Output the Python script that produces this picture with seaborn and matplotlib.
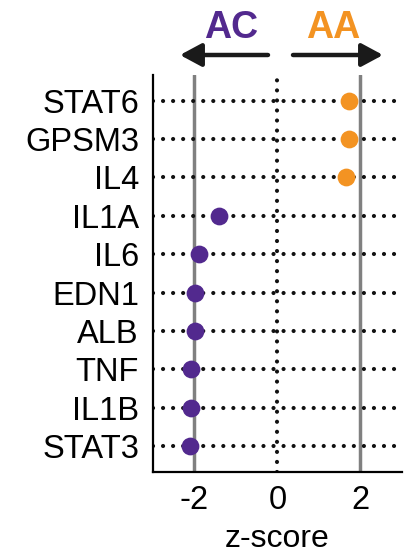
import matplotlib
matplotlib.use("Agg")
import matplotlib.pyplot as plt
import seaborn as sns
import pandas as pd

genes = ["STAT6", "GPSM3", "IL4", "IL1A", "IL6", "EDN1", "ALB", "TNF", "IL1B", "STAT3"]
zscores = [1.73, 1.73, 1.64, -1.40, -1.88, -1.98, -1.98, -2.09, -2.09, -2.10]
groups = ["AA", "AA", "AA", "AC", "AC", "AC", "AC", "AC", "AC", "AC"]
xticks = [-2, 0, 2]
xlabel = "z-score"

purple = "#52298E"
orange = "#F39322"

df = pd.DataFrame({"gene": genes, "z": zscores, "group": groups})

sns.set_style("white")
plt.rcParams["font.family"] = ["Liberation Sans", "DejaVu Sans"]
plt.rcParams["text.color"] = "black"
plt.rcParams["axes.labelcolor"] = "black"
plt.rcParams["xtick.color"] = "black"
plt.rcParams["ytick.color"] = "black"

fig = plt.figure(figsize=(4.11, 5.55), dpi=100)
ax = fig.add_axes([0.372, 0.1495, 0.606, 0.7155])

# reference lines
for xv in (-2, 2):
    ax.axvline(xv, color="#808080", lw=2.5, zorder=1)
ax.axvline(0, color="#111111", lw=3.0, linestyle=(0, (0.01, 2.4)),
           dash_capstyle="round", zorder=2)
for i in range(len(genes)):
    ax.axhline(i, color="#111111", lw=3.0, linestyle=(0, (0.01, 2.4)),
               dash_capstyle="round", zorder=2)

sns.stripplot(data=df, x="z", y="gene", hue="group", order=genes,
              palette={"AA": orange, "AC": purple}, jitter=False,
              size=12.8, linewidth=0, legend=False, ax=ax, zorder=5)

ax.set_xlim(-3, 3)
ax.set_ylim(len(genes) - 1 + 0.67, -0.67)
ax.set_xticks(xticks)
ax.set_xticklabels([str(t) for t in xticks])
ax.set_xlabel(xlabel, fontsize=23, labelpad=6, color="black")
ax.set_ylabel("")
ax.tick_params(axis="both", length=0, labelsize=23.5, labelcolor="black")
ax.tick_params(axis="x", pad=9)
ax.tick_params(axis="y", pad=10)
ax.grid(False)
for s in ("top", "right"):
    ax.spines[s].set_visible(False)
for s in ("left", "bottom"):
    ax.spines[s].set_color("black")
    ax.spines[s].set_linewidth(1.6)

# header arrows and labels
fig.text(231 / 411, 1 - 28 / 555, "AC", color=purple, fontsize=27,
         fontweight="bold", ha="center", va="center")
fig.text(333 / 411, 1 - 28 / 555, "AA", color=orange, fontsize=27,
         fontweight="bold", ha="center", va="center")
ay = 1 - 55 / 555
arrowprops = dict(arrowstyle="-|>,head_length=1.3,head_width=0.7",
                  color="#1a1a1a", lw=3.2, shrinkA=0, shrinkB=0)
ax.annotate("", xy=(180 / 411, ay), xytext=(268 / 411, ay),
            xycoords="figure fraction", textcoords="figure fraction",
            arrowprops=arrowprops, annotation_clip=False)
ax.annotate("", xy=(383 / 411, ay), xytext=(293 / 411, ay),
            xycoords="figure fraction", textcoords="figure fraction",
            arrowprops=arrowprops, annotation_clip=False)

fig.savefig("out.png", dpi=100)
